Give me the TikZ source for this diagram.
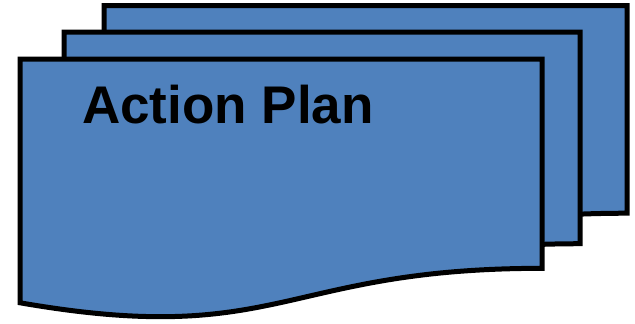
\documentclass[tikz,border=0pt]{standalone}
\usepackage{fontspec}
\setmainfont{Liberation Sans}
\definecolor{docblue}{HTML}{4F81BD}
\tikzset{docpage/.style={fill=docblue,draw=black,line width=5pt,line join=miter}}
\newcommand{\docshape}[4]{% L T R H
  \pgfmathsetmacro{\dL}{#1}\pgfmathsetmacro{\dT}{#2}\pgfmathsetmacro{\dR}{#3}\pgfmathsetmacro{\dH}{#4}
  \pgfmathsetmacro{\dM}{(\dL+\dR)/2}
  \pgfmathsetmacro{\yA}{\dT+0.802*\dH}
  \pgfmathsetmacro{\yB}{\dT+1.1075*\dH}
  \pgfmathsetmacro{\yC}{\dT+0.934*\dH}
  \draw[docpage] (\dL,\dT) -- (\dR,\dT) -- (\dR,\yA)
    .. controls (\dM,\yA) and (\dM,\yB) .. (\dL,\yC) -- cycle;
}
\begin{document}
\begin{tikzpicture}[x=1pt,y=-1pt]
\useasboundingbox (0,0) rectangle (635,324);
\docshape{104}{5.5}{627}{259}
\docshape{64}{32}{580}{264}
\docshape{20}{59}{542}{261}
\node[anchor=base west,inner sep=0pt,font=\fontsize{53}{60}\selectfont\bfseries] (title) at (82,123) {Action Plan};
\end{tikzpicture}
\end{document}
